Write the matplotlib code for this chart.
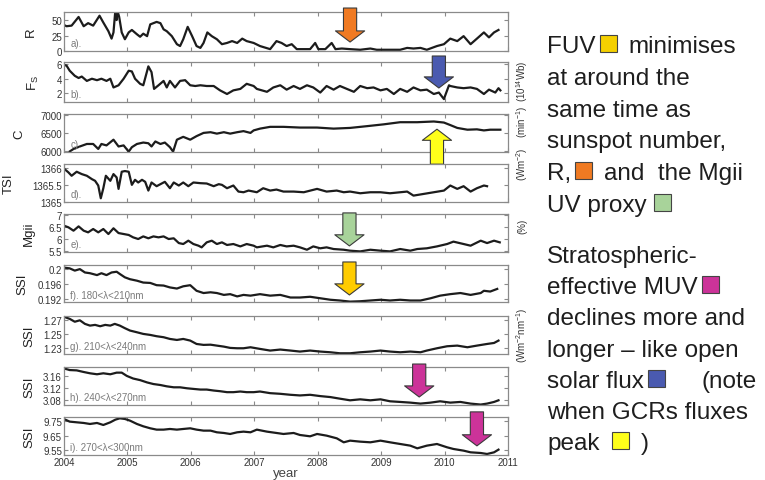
import matplotlib
matplotlib.use('Agg')
import matplotlib.pyplot as plt
import numpy as np
from matplotlib import ticker
from matplotlib.patches import Rectangle

plt.rcParams['font.family'] = ['Liberation Sans', 'DejaVu Sans']
plt.rcParams['mathtext.fontset'] = 'custom'
plt.rcParams['mathtext.rm'] = 'Liberation Sans'
plt.rcParams['mathtext.it'] = 'Liberation Sans:italic'

# ---------------- Dados (ano, valor) ----------------
R_pts = [(2004.00, 42), (2004.04, 40), (2004.12, 41), (2004.23, 55), (2004.31, 40), (2004.38, 45),
         (2004.46, 41), (2004.56, 57), (2004.62, 46), (2004.70, 32), (2004.75, 20), (2004.78, 30),
         (2004.81, 66), (2004.83, 50), (2004.84, 66), (2004.87, 55), (2004.91, 30), (2004.96, 19),
         (2005.02, 30), (2005.07, 34), (2005.15, 27), (2005.20, 23), (2005.25, 28), (2005.31, 24),
         (2005.36, 43), (2005.46, 47), (2005.52, 45), (2005.57, 35), (2005.62, 32), (2005.70, 24),
         (2005.78, 11), (2005.83, 8), (2005.88, 19), (2005.95, 39), (2006.02, 24), (2006.09, 8),
         (2006.15, 5), (2006.20, 13), (2006.26, 30), (2006.33, 24), (2006.41, 19), (2006.49, 11),
         (2006.57, 13), (2006.65, 16), (2006.73, 13), (2006.81, 20), (2006.88, 16), (2006.99, 13),
         (2007.09, 8), (2007.25, 3), (2007.35, 16), (2007.43, 13), (2007.51, 8), (2007.59, 11),
         (2007.67, 3), (2007.78, 3), (2007.88, 3), (2007.96, 13), (2008.01, 3), (2008.12, 3),
         (2008.22, 13), (2008.28, 3), (2008.38, 4), (2008.51, 3), (2008.67, 2), (2008.83, 4),
         (2008.93, 2), (2009.14, 2), (2009.30, 2), (2009.41, 5), (2009.51, 4), (2009.62, 5),
         (2009.72, 2), (2009.88, 8), (2009.99, 11), (2010.09, 20), (2010.20, 16), (2010.30, 24),
         (2010.41, 11), (2010.51, 20), (2010.62, 30), (2010.70, 22), (2010.78, 30), (2010.85, 34)]

Fs_pts = [(2004.00, 5.9), (2004.04, 5.8), (2004.09, 5.1), (2004.17, 4.4), (2004.23, 4.1), (2004.28, 4.3),
          (2004.36, 3.7), (2004.44, 4.0), (2004.52, 3.8), (2004.59, 4.0), (2004.67, 3.7), (2004.73, 4.0),
          (2004.78, 2.8), (2004.86, 3.1), (2004.94, 4.0), (2005.02, 5.1), (2005.07, 5.0), (2005.12, 4.0),
          (2005.20, 3.3), (2005.25, 3.1), (2005.33, 5.7), (2005.38, 4.9), (2005.42, 2.6), (2005.49, 3.1),
          (2005.57, 3.7), (2005.62, 2.8), (2005.67, 3.7), (2005.75, 2.8), (2005.83, 3.7), (2005.91, 3.8),
          (2005.99, 3.1), (2006.07, 3.0), (2006.15, 3.1), (2006.25, 3.0), (2006.36, 3.0), (2006.46, 2.4),
          (2006.57, 1.9), (2006.67, 2.4), (2006.78, 2.6), (2006.88, 3.3), (2006.99, 3.0), (2007.04, 2.6),
          (2007.20, 2.2), (2007.30, 2.8), (2007.41, 3.1), (2007.51, 2.5), (2007.62, 3.0), (2007.72, 2.6),
          (2007.83, 3.1), (2007.93, 2.8), (2008.04, 2.1), (2008.14, 3.0), (2008.25, 2.5), (2008.35, 3.0),
          (2008.46, 2.6), (2008.57, 2.2), (2008.67, 3.0), (2008.78, 2.7), (2008.88, 2.8), (2008.99, 2.4),
          (2009.09, 2.6), (2009.20, 1.9), (2009.30, 2.6), (2009.41, 2.2), (2009.51, 2.8), (2009.62, 2.4),
          (2009.72, 2.5), (2009.83, 1.9), (2009.91, 2.1), (2009.99, 1.2), (2010.01, 1.7), (2010.07, 3.1),
          (2010.09, 3.0), (2010.20, 2.8), (2010.30, 2.7), (2010.41, 2.8), (2010.51, 2.6), (2010.62, 1.9),
          (2010.70, 2.5), (2010.80, 2.1), (2010.85, 2.7), (2010.88, 2.4)]

C_pts = [(2004.09, 5980), (2004.15, 6050), (2004.25, 6120), (2004.36, 6190), (2004.46, 6190), (2004.54, 6050),
         (2004.59, 6190), (2004.67, 6150), (2004.78, 6310), (2004.86, 6120), (2004.94, 6150), (2005.02, 5975),
         (2005.07, 6100), (2005.15, 6190), (2005.25, 6230), (2005.33, 6210), (2005.38, 6120), (2005.44, 6260),
         (2005.52, 6190), (2005.59, 6230), (2005.67, 6100), (2005.72, 5975), (2005.78, 6310), (2005.88, 6390),
         (2005.99, 6310), (2006.09, 6410), (2006.20, 6500), (2006.31, 6520), (2006.41, 6480), (2006.52, 6520),
         (2006.62, 6480), (2006.73, 6520), (2006.83, 6550), (2006.94, 6500), (2006.99, 6570), (2007.09, 6620),
         (2007.25, 6670), (2007.46, 6670), (2007.72, 6650), (2007.99, 6650), (2008.25, 6620), (2008.51, 6640),
         (2008.78, 6690), (2009.04, 6740), (2009.30, 6800), (2009.57, 6800), (2009.83, 6820), (2009.99, 6790),
         (2010.09, 6720), (2010.20, 6640), (2010.36, 6590), (2010.51, 6600), (2010.62, 6570), (2010.72, 6590),
         (2010.88, 6590)]

TSI_pts = [(2004.02, 1365.95), (2004.07, 1365.87), (2004.12, 1365.77), (2004.20, 1365.89), (2004.28, 1365.82),
           (2004.36, 1365.77), (2004.44, 1365.67), (2004.49, 1365.62), (2004.54, 1365.48), (2004.58, 1365.10),
           (2004.62, 1365.40), (2004.66, 1365.77), (2004.73, 1365.62), (2004.78, 1365.82), (2004.83, 1365.72),
           (2004.86, 1365.38), (2004.91, 1365.89), (2004.96, 1365.91), (2005.02, 1365.89), (2005.07, 1365.50),
           (2005.12, 1365.65), (2005.17, 1365.57), (2005.23, 1365.65), (2005.28, 1365.59), (2005.33, 1365.33),
           (2005.38, 1365.57), (2005.46, 1365.46), (2005.52, 1365.52), (2005.59, 1365.59), (2005.67, 1365.40),
           (2005.73, 1365.57), (2005.81, 1365.48), (2005.88, 1365.57), (2005.96, 1365.46), (2006.04, 1365.57),
           (2006.15, 1365.55), (2006.25, 1365.54), (2006.36, 1365.46), (2006.44, 1365.52), (2006.49, 1365.50),
           (2006.57, 1365.40), (2006.67, 1365.48), (2006.75, 1365.30), (2006.83, 1365.28), (2006.91, 1365.33),
           (2006.99, 1365.30), (2007.04, 1365.28), (2007.14, 1365.40), (2007.25, 1365.33), (2007.35, 1365.36),
           (2007.46, 1365.30), (2007.62, 1365.30), (2007.78, 1365.28), (2007.99, 1365.38), (2008.14, 1365.30),
           (2008.30, 1365.33), (2008.41, 1365.28), (2008.51, 1365.30), (2008.67, 1365.25), (2008.83, 1365.28),
           (2008.99, 1365.28), (2009.14, 1365.25), (2009.30, 1365.28), (2009.41, 1365.30), (2009.51, 1365.18),
           (2009.67, 1365.23), (2009.83, 1365.28), (2009.99, 1365.33), (2010.09, 1365.48), (2010.20, 1365.38),
           (2010.30, 1365.46), (2010.41, 1365.30), (2010.51, 1365.40), (2010.62, 1365.48), (2010.67, 1365.46)]

Mg_pts = [(2004.00, 6.55), (2004.07, 6.48), (2004.15, 6.34), (2004.23, 6.52), (2004.31, 6.34), (2004.38, 6.27),
          (2004.46, 6.41), (2004.54, 6.27), (2004.62, 6.41), (2004.70, 6.20), (2004.78, 6.44), (2004.86, 6.24),
          (2004.94, 6.20), (2005.02, 6.16), (2005.09, 6.06), (2005.17, 5.99), (2005.25, 6.10), (2005.33, 6.02),
          (2005.41, 6.10), (2005.49, 6.06), (2005.57, 6.10), (2005.65, 5.99), (2005.73, 6.02), (2005.81, 5.82),
          (2005.88, 5.78), (2005.96, 5.92), (2006.04, 5.78), (2006.12, 5.71), (2006.17, 5.64), (2006.25, 5.85),
          (2006.33, 5.92), (2006.41, 5.78), (2006.49, 5.85), (2006.57, 5.74), (2006.67, 5.78), (2006.78, 5.68),
          (2006.88, 5.78), (2006.99, 5.71), (2007.04, 5.64), (2007.20, 5.71), (2007.30, 5.64), (2007.41, 5.74),
          (2007.51, 5.68), (2007.62, 5.71), (2007.72, 5.64), (2007.83, 5.54), (2007.93, 5.68), (2008.04, 5.60),
          (2008.14, 5.64), (2008.25, 5.57), (2008.41, 5.54), (2008.51, 5.50), (2008.67, 5.47), (2008.83, 5.54),
          (2008.99, 5.50), (2009.14, 5.47), (2009.30, 5.57), (2009.46, 5.50), (2009.57, 5.57), (2009.72, 5.60),
          (2009.88, 5.68), (2010.04, 5.78), (2010.14, 5.88), (2010.30, 5.78), (2010.41, 5.71), (2010.57, 5.92),
          (2010.67, 5.82), (2010.78, 5.92), (2010.87, 5.85)]

SSI_f_pts = [(2004.00, 0.2004), (2004.09, 0.2002), (2004.17, 0.1996), (2004.25, 0.2000), (2004.33, 0.1991),
             (2004.41, 0.1989), (2004.52, 0.1984), (2004.59, 0.1989), (2004.67, 0.1984), (2004.75, 0.1991),
             (2004.83, 0.1993), (2004.88, 0.1987), (2004.96, 0.1978), (2005.04, 0.1973), (2005.15, 0.1969),
             (2005.25, 0.1964), (2005.36, 0.1963), (2005.46, 0.1957), (2005.57, 0.1956), (2005.67, 0.1951),
             (2005.78, 0.1948), (2005.88, 0.1954), (2005.99, 0.1957), (2006.09, 0.1942), (2006.20, 0.1936),
             (2006.31, 0.1938), (2006.41, 0.1936), (2006.52, 0.1931), (2006.62, 0.1933), (2006.73, 0.1927),
             (2006.83, 0.1931), (2006.94, 0.1929), (2007.09, 0.1933), (2007.25, 0.1929), (2007.41, 0.1931),
             (2007.57, 0.1924), (2007.72, 0.1924), (2007.88, 0.1926), (2008.04, 0.1922), (2008.20, 0.1918),
             (2008.35, 0.1916), (2008.51, 0.1913), (2008.67, 0.1914), (2008.83, 0.1916), (2008.99, 0.1918),
             (2009.14, 0.1916), (2009.30, 0.1918), (2009.46, 0.1916), (2009.62, 0.1916), (2009.78, 0.1922),
             (2009.93, 0.1929), (2010.09, 0.1933), (2010.25, 0.1936), (2010.41, 0.1931), (2010.57, 0.1936),
             (2010.62, 0.1942), (2010.72, 0.1940), (2010.83, 0.1947)]

SSI_g_pts = [(2004.02, 1.2733), (2004.09, 1.2710), (2004.17, 1.2670), (2004.25, 1.2690), (2004.33, 1.2640),
             (2004.41, 1.2616), (2004.49, 1.2626), (2004.57, 1.2607), (2004.65, 1.2626), (2004.73, 1.2616),
             (2004.80, 1.2640), (2004.88, 1.2616), (2004.96, 1.2580), (2005.04, 1.2547), (2005.15, 1.2523),
             (2005.25, 1.2500), (2005.36, 1.2486), (2005.46, 1.2468), (2005.57, 1.2454), (2005.67, 1.2430),
             (2005.78, 1.2416), (2005.88, 1.2430), (2005.99, 1.2407), (2006.09, 1.2360), (2006.20, 1.2347),
             (2006.31, 1.2350), (2006.41, 1.2337), (2006.52, 1.2323), (2006.62, 1.2305), (2006.73, 1.2300),
             (2006.83, 1.2300), (2006.94, 1.2314), (2007.09, 1.2291), (2007.25, 1.2268), (2007.41, 1.2282),
             (2007.57, 1.2268), (2007.72, 1.2254), (2007.88, 1.2268), (2008.04, 1.2254), (2008.20, 1.2244),
             (2008.35, 1.2230), (2008.51, 1.2230), (2008.67, 1.2244), (2008.83, 1.2254), (2008.99, 1.2268),
             (2009.14, 1.2254), (2009.30, 1.2244), (2009.46, 1.2254), (2009.62, 1.2244), (2009.72, 1.2268),
             (2009.88, 1.2300), (2010.04, 1.2328), (2010.20, 1.2337), (2010.36, 1.2314), (2010.51, 1.2337),
             (2010.67, 1.2360), (2010.78, 1.2374), (2010.85, 1.2407)]

SSI_h_pts = [(2004.02, 3.1840), (2004.09, 3.1797), (2004.20, 3.1786), (2004.31, 3.1732), (2004.41, 3.1688),
             (2004.52, 3.1655), (2004.62, 3.1688), (2004.73, 3.1655), (2004.83, 3.1710), (2004.91, 3.1710),
             (2004.99, 3.1600), (2005.09, 3.1512), (2005.20, 3.1458), (2005.31, 3.1380), (2005.41, 3.1326),
             (2005.52, 3.1293), (2005.62, 3.1249), (2005.73, 3.1216), (2005.83, 3.1216), (2005.94, 3.1183),
             (2006.04, 3.1162), (2006.15, 3.1140), (2006.25, 3.1140), (2006.36, 3.1107), (2006.46, 3.1085),
             (2006.57, 3.1052), (2006.67, 3.1052), (2006.78, 3.1074), (2006.88, 3.1052), (2006.99, 3.1052),
             (2007.09, 3.1074), (2007.25, 3.1019), (2007.41, 3.0997), (2007.57, 3.0964), (2007.72, 3.0942),
             (2007.88, 3.0964), (2008.04, 3.0920), (2008.20, 3.0887), (2008.35, 3.0833), (2008.51, 3.0778),
             (2008.67, 3.0811), (2008.83, 3.0778), (2008.99, 3.0811), (2009.14, 3.0745), (2009.30, 3.0723),
             (2009.46, 3.0700), (2009.62, 3.0667), (2009.78, 3.0700), (2009.93, 3.0745), (2010.09, 3.0700),
             (2010.25, 3.0723), (2010.41, 3.0667), (2010.57, 3.0635), (2010.67, 3.0667), (2010.78, 3.0723),
             (2010.85, 3.0778)]

SSI_i_pts = [(2004.02, 9.7616), (2004.09, 9.7477), (2004.20, 9.7430), (2004.31, 9.7384), (2004.41, 9.7314),
             (2004.52, 9.7384), (2004.62, 9.7244), (2004.73, 9.7430), (2004.81, 9.7616), (2004.88, 9.7709),
             (2004.96, 9.7663), (2005.04, 9.7547), (2005.15, 9.7314), (2005.25, 9.7151), (2005.36, 9.7012),
             (2005.46, 9.6919), (2005.57, 9.6919), (2005.67, 9.6965), (2005.78, 9.6919), (2005.88, 9.6965),
             (2005.99, 9.7012), (2006.09, 9.6919), (2006.20, 9.6849), (2006.31, 9.6849), (2006.41, 9.6733),
             (2006.52, 9.6686), (2006.62, 9.6616), (2006.73, 9.6733), (2006.83, 9.6779), (2006.94, 9.6733),
             (2007.04, 9.6919), (2007.20, 9.6779), (2007.35, 9.6686), (2007.46, 9.6616), (2007.62, 9.6686),
             (2007.72, 9.6546), (2007.88, 9.6453), (2007.99, 9.6616), (2008.14, 9.6500), (2008.30, 9.6314),
             (2008.41, 9.6035), (2008.51, 9.6151), (2008.67, 9.6081), (2008.83, 9.6035), (2008.99, 9.6151),
             (2009.14, 9.6035), (2009.30, 9.5918), (2009.46, 9.5802), (2009.57, 9.5616), (2009.72, 9.5802),
             (2009.88, 9.5918), (2010.04, 9.5686), (2010.14, 9.5570), (2010.30, 9.5453), (2010.41, 9.5337),
             (2010.57, 9.5290), (2010.67, 9.5221), (2010.78, 9.5337), (2010.85, 9.5523)]

series   = [R_pts, Fs_pts, C_pts, TSI_pts, Mg_pts, SSI_f_pts, SSI_g_pts, SSI_h_pts, SSI_i_pts]
ylabels  = ['R', r'F$_{\rm S}$', 'C', 'TSI', 'Mgii', 'SSI', 'SSI', 'SSI', 'SSI']
ytick_v  = [[0, 25, 50], [2, 4, 6], [6000, 6500, 7000], [1365, 1365.5, 1366], [5.5, 6, 6.5, 7],
            [0.192, 0.196, 0.2], [1.23, 1.25, 1.27], [3.08, 3.12, 3.16], [9.55, 9.65, 9.75]]
paineis  = ['a).', 'b).', 'c).', 'd).', 'e).', 'f). 180<\u03bb<210nm', 'g). 210<\u03bb<240nm',
            'h). 240<\u03bb<270nm', 'i). 270<\u03bb<300nm']
anos     = list(range(2004, 2012))

# ---------------- Layout (pixels da figura) ----------------
W, H = 765, 481
ylims   = [(0, 63), (0.8, 6.3), (5965, 7030), (1364.99, 1366.12), (5.445, 7.04),
           (0.1912, 0.2011), (1.222, 1.275), (3.062, 3.19), (9.515, 9.78)]
topo    = [13, 63, 115, 165, 215, 266, 317, 368, 418]
base    = [52, 103, 153, 203, 253, 303, 355, 406, 456]
lab_x   = [37, 41, 25, 15, 35, 28, 35, 35, 35]     # borda direita do ylabel
x0, x1  = 64, 508

fig = plt.figure(figsize=(W / 100, H / 100), dpi=100)

axes = []
for k, pts in enumerate(series):
    ax = fig.add_axes([x0 / W, 1 - base[k] / H, (x1 - x0) / W, (base[k] - topo[k]) / H])
    ax.set_facecolor('none')
    t = np.array([p[0] for p in pts])
    v = np.array([p[1] for p in pts])
    ax.plot(t, v, color='#1c1c1c', lw=1.6)
    ax.set_xlim(2004, 2011)
    ax.set_ylim(*ylims[k])
    ax.set_xticks(anos)
    ax.set_yticks(ytick_v[k])
    ax.yaxis.set_major_formatter(ticker.FormatStrFormatter('%g'))
    ax.tick_params(direction='in', length=3, width=0.8, top=True, right=True,
                   labelsize=7, color='#8a8a8a', labelcolor='#333333', pad=1.5)
    if k < len(series) - 1:
        ax.tick_params(labelbottom=False)
    for s in ax.spines.values():
        s.set_color('#8a8a8a')
        s.set_linewidth(0.9)
    ax.set_ylabel(ylabels[k], fontsize=9.5, color='#222222')
    ax.yaxis.set_label_coords((lab_x[k] - x0) / (x1 - x0), 0.5)
    ax.text(0.014, 0.2, paineis[k], transform=ax.transAxes, fontsize=7,
            color='#7a7a7a', va='center', ha='left')
    axes.append(ax)

axes[-1].set_xlabel('year', fontsize=9.5, color='#444444', labelpad=0)

# Unidades a direita
unidades = [(1, r'(10$^{14}$Wb)', 81), (2, r'(min$^{-1}$)', 122), (3, r'(Wm$^{-2}$)', 164),
            (4, '(%)', 226), (6, r'(Wm$^{-2}$nm$^{-1}$)', 335)]
for k, txt, yc in unidades:
    fig.text(522 / W, 1 - yc / H, txt, rotation=90, fontsize=7, color='#333333',
             ha='center', va='center')

# Setas de destaque: (painel, ano, ponta em fracao do eixo, comprimento px, sentido, cor)
setas = [(0, 2008.51, 0.23, 34, 'down', '#F07A22'),
         (1, 2009.91, 0.35, 32, 'down', '#4A5AB0'),
         (2, 2009.88, 0.60, 35, 'up',   '#FFFF1A'),
         (4, 2008.50, 0.16, 33, 'down', '#A8D39A'),
         (5, 2008.50, 0.19, 33, 'down', '#FFCC00'),
         (7, 2009.60, 0.21, 33, 'down', '#CC3399'),
         (8, 2010.51, 0.24, 34, 'down', '#CC3399')]
for k, ano, fy, comp, sentido, cor in setas:
    dy = comp * 0.72 if sentido == 'down' else -comp * 0.72
    axes[k].annotate('', xy=(ano, fy), xycoords=('data', 'axes fraction'),
                     xytext=(0, dy), textcoords='offset points', annotation_clip=False,
                     arrowprops=dict(arrowstyle='simple,head_length=0.8,head_width=2.1,tail_width=0.95',
                                     mutation_scale=10, fc=cor, ec='#3a3a3a', lw=0.8,
                                     shrinkA=0, shrinkB=0), zorder=6)

# ---------------- Texto explicativo com quadrados coloridos ----------------
bloco1 = [['FUV', ('q', '#F5D000'), 'minimises'],
          ['at around the'],
          ['same time as'],
          ['sunspot number,'],
          ['R,', ('q', '#F07A22'), 'and  the Mgii'],
          ['UV proxy', ('g', 3), ('q', '#A8D39A')]]
bloco2 = [['Stratospheric-'],
          ['effective MUV', ('q', '#CC3399')],
          ['declines more and'],
          ['longer \u2013 like open'],
          ['solar flux', ('q', '#4A5AB0'), ('g', 25), '(note'],
          ['when GCRs fluxes'],
          ['peak', ('g', 8), ('q', '#FFFF1A'), ')']]

renderer = fig.canvas.get_renderer()
tam = 17.5
lado = 17  # px


def escreve(linhas, y_ini, passo):
    for n, partes in enumerate(linhas):
        yb = y_ini + n * passo
        x = 547.0
        prev_q = False
        for p in partes:
            if isinstance(p, tuple) and p[0] == 'q':
                x += 4
                fig.add_artist(Rectangle((x / W, 1 - yb / H), lado / W, lado / H,
                                         transform=fig.transFigure, fc=p[1], ec='#444444', lw=0.8))
                x += lado
                prev_q = True
            elif isinstance(p, tuple) and p[0] == 'g':
                x += p[1]
            else:
                if prev_q:
                    x += 12
                tx = fig.text(x / W, 1 - yb / H, p, fontsize=tam, color='#1e1e1e',
                              ha='left', va='baseline')
                x += tx.get_window_extent(renderer=renderer).width
                prev_q = False


escreve(bloco1, 53, 31.8)
escreve(bloco2, 263, 31.2)

fig.savefig('out.png', dpi=100)
